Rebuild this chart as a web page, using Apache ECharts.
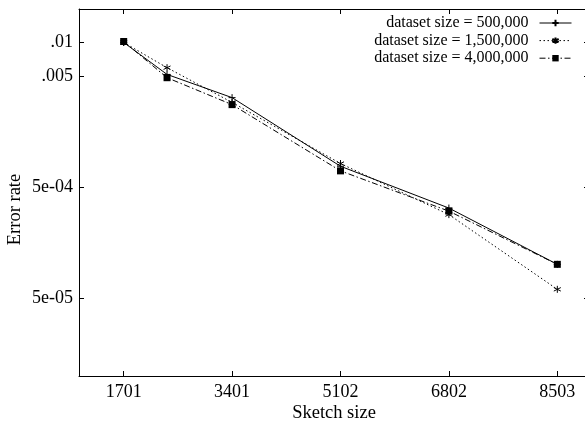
<!DOCTYPE html>
<html>
<head>
<meta charset="utf-8">
<script src="https://cdn.jsdelivr.net/npm/echarts@6/dist/echarts.min.js"></script>
<style>html,body{margin:0;padding:0;background:#fff;}#c{width:585px;height:427px;}</style>
</head>
<body>
<div id="c"></div>
<script>
const sketchSizes = [1701, 2381, 3401, 5102, 6802, 8503];
const errDataset500k = [0.0100, 0.00516, 0.00319, 0.00077, 0.000324, 0.000101];
const errDataset1500k = [0.0100, 0.00593, 0.00289, 0.000815, 0.000283, 0.0000602];
const errDataset4000k = [0.0102, 0.00482, 0.00276, 0.00070, 0.000304, 0.000101];
const seriesNames = ['dataset size = 500,000', 'dataset size = 1,500,000', 'dataset size = 4,000,000'];
const xTickValues = [1701, 3401, 5102, 6802, 8503];
const yTickValues = [0.01, 0.005, 0.0005, 0.00005];
const yTickLabels = ['.01', '.005', '5e-04', '5e-05'];

const FONT = 'Liberation Serif';
function yFmt(v) {
  let best = 0, bd = Infinity;
  for (let i = 0; i < yTickValues.length; i++) {
    const d = Math.abs(Math.log10(v) - Math.log10(yTickValues[i]));
    if (d < bd) { bd = d; best = i; }
  }
  return yTickLabels[best];
}
function xFmt(v) { return String(Math.round(v)); }
function pairs(ys) { return sketchSizes.map((x, i) => [x, ys[i]]); }

const axisLineStyle = { color: '#000', width: 1 };
const chart = echarts.init(document.getElementById('c'), null, { renderer: 'canvas' });
chart.setOption({
  animation: false,
  backgroundColor: '#fff',
  grid: { left: 79, top: 9, width: 510, height: 367, containLabel: false, outerBoundsMode: 'none' },
  legend: {
    orient: 'vertical', right: 13, top: 15, padding: 0,
    align: 'right', itemWidth: 32, itemHeight: 8, itemGap: 1.6,
    lineStyle: { width: 1 },
    textStyle: { fontFamily: FONT, fontSize: 16, color: '#000', padding: [0, 6, 0, 0] },
    data: seriesNames
  },
  xAxis: [{
    type: 'value', min: 1000, max: 9000, position: 'bottom',
    name: 'Sketch size', nameLocation: 'middle', nameGap: 28, nameMoveOverlap: false,
    nameTextStyle: { fontFamily: FONT, fontSize: 18.5, color: '#000' },
    axisLine: { show: true, onZero: false, lineStyle: axisLineStyle },
    axisTick: { show: true, inside: true, length: 5, customValues: xTickValues, lineStyle: axisLineStyle },
    axisLabel: { customValues: xTickValues, formatter: xFmt, fontFamily: FONT, fontSize: 18, color: '#000', margin: 7 },
    splitLine: { show: false }
  }, {
    type: 'value', min: 1000, max: 9000, position: 'top',
    axisLine: { show: true, onZero: false, lineStyle: axisLineStyle },
    axisTick: { show: true, inside: true, length: 5, customValues: xTickValues, lineStyle: axisLineStyle },
    axisLabel: { show: false },
    splitLine: { show: false }
  }],
  yAxis: [{
    type: 'log', logBase: 10, min: 0.00001, max: 0.02, position: 'left',
    name: 'Error rate', nameLocation: 'middle', nameGap: 54, nameRotate: 90, nameMoveOverlap: false,
    nameTextStyle: { fontFamily: FONT, fontSize: 18.5, color: '#000', padding: [0, 34, 0, 0] },
    axisLine: { show: true, onZero: false, lineStyle: axisLineStyle },
    axisTick: { show: true, inside: true, length: 5, customValues: yTickValues, lineStyle: axisLineStyle },
    axisLabel: { customValues: yTickValues, formatter: yFmt, fontFamily: FONT, fontSize: 18, color: '#000', margin: 6 },
    splitLine: { show: false }, minorTick: { show: false }
  }, {
    type: 'log', logBase: 10, min: 0.00001, max: 0.02, position: 'right',
    axisLine: { show: true, onZero: false, lineStyle: axisLineStyle },
    axisTick: { show: true, inside: true, length: 5, customValues: yTickValues, lineStyle: axisLineStyle },
    axisLabel: { show: false },
    splitLine: { show: false }
  }],
  series: [{
    name: seriesNames[0], type: 'line', data: pairs(errDataset500k),
    symbol: 'path://M0,5H10M5,0V10', symbolSize: 7,
    itemStyle: { color: '#000', borderColor: '#000', borderWidth: 1 },
    lineStyle: { color: '#000', width: 1, type: 'solid' }
  }, {
    name: seriesNames[1], type: 'line', data: pairs(errDataset1500k),
    symbol: 'path://M5,0V10M0.7,2.5L9.3,7.5M0.7,7.5L9.3,2.5', symbolSize: 7,
    itemStyle: { color: '#000', borderColor: '#000', borderWidth: 1 },
    lineStyle: { color: '#000', width: 1, type: [1.5, 2.5] }
  }, {
    name: seriesNames[2], type: 'line', data: pairs(errDataset4000k),
    symbol: 'rect', symbolSize: 7,
    itemStyle: { color: '#000' },
    lineStyle: { color: '#000', width: 1, type: [6, 2.5, 1.5, 2.5] }
  }]
});
</script>
</body>
</html>
